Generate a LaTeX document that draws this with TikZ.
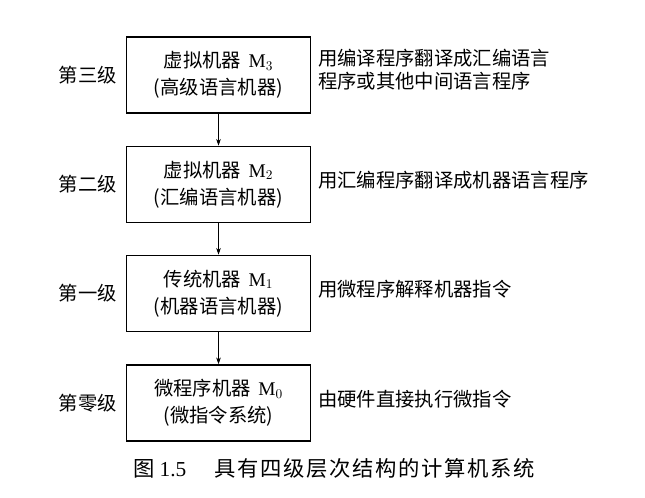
\documentclass[tikz,border=0pt]{standalone}
\usepackage{fontspec}
\setmainfont{Liberation Serif}
\newfontfamily\cjk{Noto Sans CJK SC}
\newfontfamily\capcjk[LetterSpace=8]{Noto Sans CJK SC}
\usetikzlibrary{arrows.meta}

\tikzset{
	machine/.style={draw, line width=1.3pt, minimum width=138pt, minimum height=57pt, align=center, font=\fontsize{14.5pt}{20.5pt}\selectfont\cjk, inner sep=0pt},
	levellabel/.style={anchor=east, font=\fontsize{14.5pt}{17pt}\selectfont\cjk, inner sep=0pt},
	howtext/.style={anchor=west, align=left, font=\fontsize{14.5pt}{17.5pt}\selectfont\cjk, inner sep=0pt},
	down/.style={-{Stealth[length=5pt, width=3.5pt]}, line width=0.5pt}
}

\begin{document}
\begin{tikzpicture}[x=0.75pt, y=-0.75pt]
	\useasboundingbox (0,0) rectangle (645,497);
	
	\node[machine] (m3) at (218.5,75) {虚拟机器 \,$\mathrm{M}_3$\\(高级语言机器)};
	\node[machine] (m2) at (218.5,184.5) {虚拟机器 \,$\mathrm{M}_2$\\(汇编语言机器)};
	\node[machine] (m1) at (218.5,293.5) {传统机器 \,$\mathrm{M}_1$\\(机器语言机器)};
	\node[machine] (m0) at (218.5,403) {微程序机器 \,$\mathrm{M}_0$\\(微指令系统)};
	
	\node[levellabel] (l3) at ([xshift=-6.5pt]m3.west) {第三级};
	\node[levellabel] (l2) at ([xshift=-6.5pt]m2.west) {第二级};
	\node[levellabel] (l1) at ([xshift=-6.5pt]m1.west) {第一级};
	\node[levellabel] (l0) at ([xshift=-6.5pt]m0.west) {第零级};
	
	\node[howtext] (t3) at ([xshift=5pt, yshift=4pt]m3.east) {用编译程序翻译成汇编语言\\程序或其他中间语言程序};
	\node[howtext] (t2) at ([xshift=5pt, yshift=3pt]m2.east) {用汇编程序翻译成机器语言程序};
	\node[howtext] (t1) at ([xshift=5pt, yshift=3pt]m1.east) {用微程序解释机器指令};
	\node[howtext] (t0) at ([xshift=5pt, yshift=3pt]m0.east) {由硬件直接执行微指令};
	
	\draw[down] (m3) -- (m2);
	\draw[down] (m2) -- (m1);
	\draw[down] (m1) -- (m0);
	
	\node[font=\fontsize{16pt}{19pt}\selectfont] (cap) at (334,468) {{\capcjk 图} 1.5\hspace{1.3em}{\capcjk 具有四级层次结构的计算机系统}};
\end{tikzpicture}
\end{document}
